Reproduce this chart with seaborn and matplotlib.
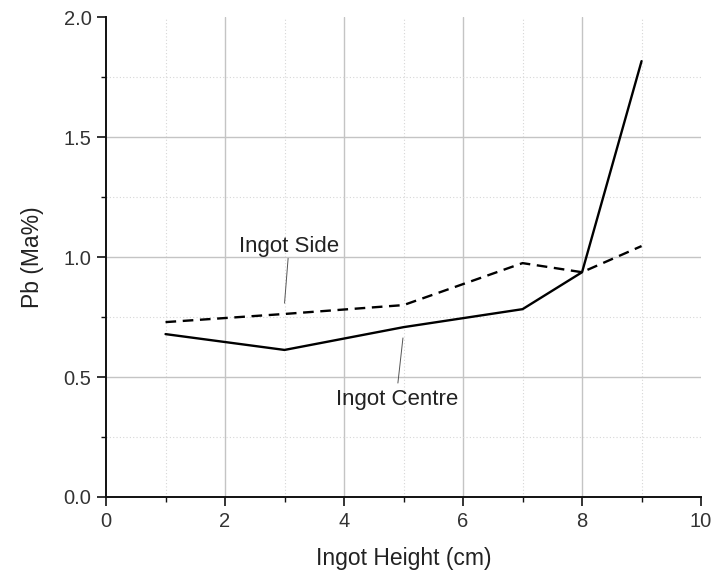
import matplotlib
matplotlib.use("Agg")
import matplotlib.pyplot as plt
from matplotlib.ticker import MultipleLocator, FormatStrFormatter
import seaborn as sns
import pandas as pd

heights = [1, 3, 5, 7, 8, 9]
centre = [0.679, 0.613, 0.708, 0.783, 0.937, 1.817]
side = [0.729, 0.763, 0.800, 0.975, 0.937, 1.046]

x_major_grid = [2, 4, 6, 8]
x_minor_grid = [1, 3, 5, 7, 9]
y_major_grid = [0.5, 1.0, 1.5]
y_minor_grid = [0.25, 0.75, 1.25, 1.75]

sns.set_style("white")
plt.rcParams["font.family"] = ["Liberation Sans", "DejaVu Sans"]

df_c = pd.DataFrame({"h": heights, "pb": centre})
df_s = pd.DataFrame({"h": heights, "pb": side})

fig = plt.figure(figsize=(7.15, 5.75), dpi=100)
ax = fig.add_axes([0.1483, 0.1357, 0.8322, 0.8343])

for v in x_major_grid:
    ax.axvline(v, color="#c4c4c4", linewidth=1.0, zorder=0)
for v in x_minor_grid:
    ax.axvline(v, color="#d6d6d6", linewidth=0.8, linestyle=(0, (1, 2)), zorder=0)
for v in y_major_grid:
    ax.axhline(v, color="#c4c4c4", linewidth=1.0, zorder=0)
for v in y_minor_grid:
    ax.axhline(v, color="#d6d6d6", linewidth=0.8, linestyle=(0, (1, 2)), zorder=0)

sns.lineplot(data=df_c, x="h", y="pb", ax=ax, color="black", linewidth=1.7)
sns.lineplot(data=df_s, x="h", y="pb", ax=ax, color="black", linewidth=1.7,
             linestyle=(0, (4.5, 2.8)))

ax.set_xlim(0, 10)
ax.set_ylim(0, 2.0)
ax.xaxis.set_major_locator(MultipleLocator(2))
ax.xaxis.set_minor_locator(MultipleLocator(1))
ax.yaxis.set_major_locator(MultipleLocator(0.5))
ax.yaxis.set_minor_locator(MultipleLocator(0.25))
ax.yaxis.set_major_formatter(FormatStrFormatter("%.1f"))
ax.grid(False)

for s in ["top", "right"]:
    ax.spines[s].set_visible(False)
for s in ["left", "bottom"]:
    ax.spines[s].set_color("#111111")
    ax.spines[s].set_linewidth(1.4)

ax.tick_params(which="major", direction="out", length=6.5, width=1.2,
               color="#111111", labelsize=14.5, labelcolor="#333333", pad=4)
ax.tick_params(which="minor", direction="out", length=3.5, width=1.0,
               color="#111111")
ax.tick_params(axis="x", which="both", bottom=True)
ax.tick_params(axis="y", which="both", left=True)

ax.set_xlabel("Ingot Height (cm)", fontsize=16.5, color="#222222", labelpad=12)
ax.set_ylabel("Pb (Ma%)", fontsize=16.5, color="#222222", labelpad=14)

ax.text(3.07, 1.021, "Ingot Side", fontsize=16, color="#222222",
        ha="center", va="baseline")
ax.plot([3.0, 3.06], [0.808, 0.995], color="#555555", linewidth=0.7)
ax.text(4.90, 0.383, "Ingot Centre", fontsize=16, color="#222222",
        ha="center", va="baseline")
ax.plot([4.99, 4.905], [0.663, 0.475], color="#555555", linewidth=0.7)

fig.savefig("out.png", dpi=100)
